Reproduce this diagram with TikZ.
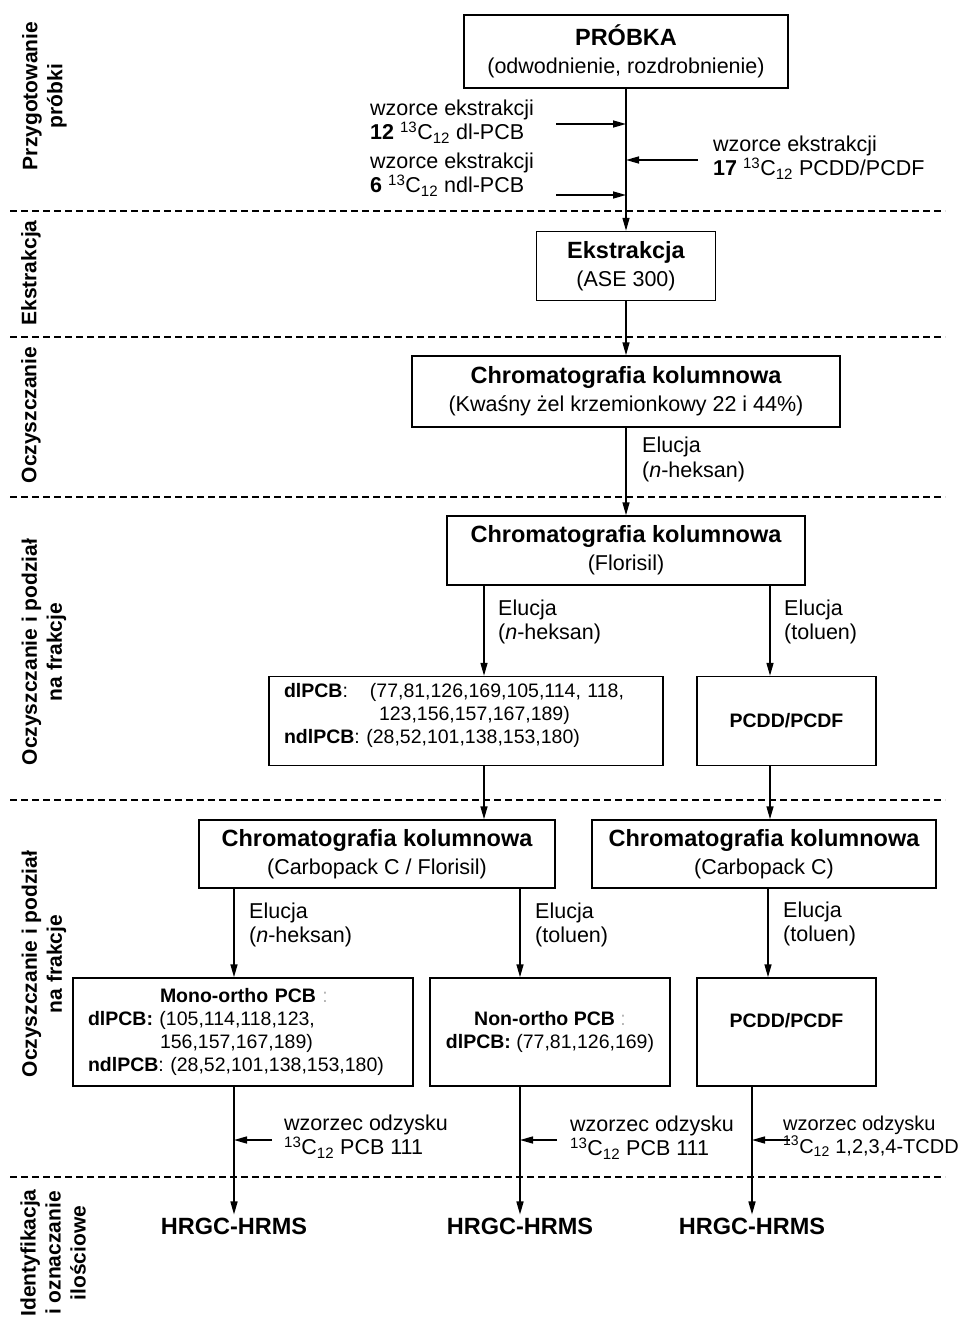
\documentclass[tikz,border=0pt]{standalone}
\usepackage{fontspec}
\setmainfont{Liberation Sans}
\usetikzlibrary{arrows.meta}

\newcommand{\pfnorm}{\fontsize{21.5}{24.5}\selectfont}
\newcommand{\pfbox}{\fontsize{21.5}{28}\selectfont}
\newcommand{\pfbig}{\fontsize{23.5}{28}\selectfont}
\newcommand{\pfsmall}{\fontsize{19.5}{23}\selectfont}
\newcommand{\pfstage}{\fontsize{21}{25}\selectfont}
\newcommand{\isoC}{\textsuperscript{13}C\textsubscript{12}}

\begin{document}
\begin{tikzpicture}[x=1pt,y=-1pt,
    box/.style={draw, line width=1.5pt, align=center, inner sep=0pt, font=\pfbox},
    note/.style={align=left, inner sep=0pt, anchor=west, font=\pfnorm},
    stage/.style={rotate=90, align=center, inner sep=0pt, font=\pfstage\bfseries},
    hrgc/.style={inner sep=3pt, font=\pfbig\bfseries},
    arr/.style={line width=1.5pt, -{Triangle[length=13pt,width=7pt]}},
    sepline/.style={line width=1.3pt, dash pattern=on 7pt off 4pt}]
  \useasboundingbox (0,0) rectangle (967,1319);

  \foreach \y in {211,337,497,800,1177}
    \draw[sepline] (10,\y) -- (945,\y);

  \node[stage] (s1) at (44.5,96) {Przygotowanie\\próbki};
  \node[stage] (s2) at (31,273) {Ekstrakcja};
  \node[stage] (s3) at (31,415) {Oczyszczanie};
  \node[stage] (s4) at (44,652) {Oczyszczanie i podział\\na frakcje};
  \node[stage] (s5) at (44,964) {Oczyszczanie i podział\\na frakcje};
  \node[stage] (s6) at (53,1253) {Identyfikacja\\i oznaczanie\\ilościowe};

  \node[box, minimum width=324pt, minimum height=73pt] (probka) at (626,51.5)
    {{\pfbig\bfseries PRÓBKA}\\(odwodnienie, rozdrobnienie)};
  \node[box, minimum width=179pt, minimum height=69pt] (ekstr) at (626,266)
    {{\pfbig\bfseries Ekstrakcja}\\(ASE 300)};
  \node[box, minimum width=428pt, minimum height=71pt] (chrom) at (626,391.5)
    {{\pfbig\bfseries Chromatografia kolumnowa}\\(Kwaśny żel krzemionkowy 22 i 44\%)};
  \node[box, minimum width=358pt, minimum height=69pt] (flor) at (626,550.5)
    {{\pfbig\bfseries Chromatografia kolumnowa}\\(Florisil)};
  \node[box, align=left, text width=364pt, inner xsep=15pt, minimum height=89pt,
        font=\pfsmall] (dlpcb) at (466,721)
    {\textbf{dlPCB}:\hspace{22pt}(77,81,126,169,105,114, 118,\\
     \hspace*{95pt}123,156,157,167,189)\\
     \textbf{ndlPCB}: (28,52,101,138,153,180)\\[-8pt]\mbox{}};
  \node[box, minimum width=179pt, minimum height=89pt, font=\pfsmall] (pcdda) at (786.5,721)
    {\textbf{PCDD/PCDF}};
  \node[box, minimum width=356pt, minimum height=68pt] (carbflor) at (377,854)
    {{\pfbig\bfseries Chromatografia kolumnowa}\\(Carbopack C / Florisil)};
  \node[box, minimum width=344pt, minimum height=68pt] (carb) at (764,854)
    {{\pfbig\bfseries Chromatografia kolumnowa}\\(Carbopack C)};
  \node[box, align=left, text width=310pt, inner xsep=15pt, minimum height=108pt,
        font=\pfsmall] (mono) at (243,1032)
    {\hspace*{72pt}\textbf{Mono-ortho PCB} \textcolor{gray!60}{:}\\
     \textbf{dlPCB:} (105,114,118,123,\\
     \hspace*{72pt}156,157,167,189)\\
     \textbf{ndlPCB}: (28,52,101,138,153,180)};
  \node[box, minimum width=240pt, minimum height=108pt, font=\pfsmall] (nonortho) at (550,1032)
    {\textbf{Non-ortho PCB} \textcolor{gray!60}{:}\\\textbf{dlPCB:} (77,81,126,169)};
  \node[box, minimum width=179pt, minimum height=108pt, font=\pfsmall] (pcddb) at (786.5,1032)
    {\textbf{PCDD/PCDF}\\\mbox{}};

  \node[hrgc] (hra) at (234,1226) {HRGC-HRMS};
  \node[hrgc] (hrb) at (520,1226) {HRGC-HRMS};
  \node[hrgc] (hrc) at (752,1226) {HRGC-HRMS};

  \node[note] (wa) at (370,121.5) {wzorce ekstrakcji\\\textbf{12} \isoC{} dl-PCB};
  \node[note] (wb) at (370,174.5) {wzorce ekstrakcji\\\textbf{6} \isoC{} ndl-PCB};
  \node[note] (wc) at (713,157.5) {wzorce ekstrakcji\\\textbf{17} \isoC{} PCDD/PCDF};

  \node[note] (ea) at (642,459.5) {Elucja\\(\textit{n}-heksan)};
  \node[note] (eb) at (498,622) {Elucja\\(\textit{n}-heksan)};
  \node[note] (ec) at (784,622) {Elucja\\(toluen)};
  \node[note] (ed) at (249,925) {Elucja\\(\textit{n}-heksan)};
  \node[note] (ee) at (535,925) {Elucja\\(toluen)};
  \node[note] (ef) at (783,924) {Elucja\\(toluen)};

  \node[note] (ra) at (284,1136.5) {wzorzec odzysku\\\isoC{} PCB 111};
  \node[note] (rb) at (570,1137.5) {wzorzec odzysku\\\isoC{} PCB 111};
  \node[note, font=\fontsize{20}{23}\selectfont] (rc) at (783,1136)
    {wzorzec odzysku\\\isoC{} 1,2,3,4-TCDD};

  \coordinate (cola) at (234,0);
  \coordinate (colb) at (520,0);
  \coordinate (colc) at (768,0);
  \coordinate (cole) at (484,0);
  \coordinate (colf) at (770,0);
  \coordinate (ina) at (556,124);
  \coordinate (inb) at (556,195);
  \coordinate (inc) at (698,160);
  \coordinate (rca) at (272,1140);
  \coordinate (rcb) at (557,1140);
  \coordinate (rcc) at (790,1140);

  \draw[arr] (probka) -- (ekstr);
  \draw[arr] (ekstr) -- (chrom);
  \draw[arr] (chrom) -- (flor);
  \draw[arr] (ina) -- (ina -| probka);
  \draw[arr] (inb) -- (inb -| probka);
  \draw[arr] (inc) -- (inc -| probka);

  \draw[arr] (cole |- flor.south) -- (cole |- dlpcb.north);
  \draw[arr] (colf |- flor.south) -- (colf |- pcdda.north);
  \draw[arr] (cole |- dlpcb.south) -- (cole |- carbflor.north);
  \draw[arr] (colf |- pcdda.south) -- (colf |- carb.north);
  \draw[arr] (cola |- carbflor.south) -- (cola |- mono.north);
  \draw[arr] (colb |- carbflor.south) -- (colb |- nonortho.north);
  \draw[arr] (colc |- carb.south) -- (colc |- pcddb.north);

  \draw[arr] (hra |- mono.south) -- (hra);
  \draw[arr] (hrb |- nonortho.south) -- (hrb);
  \draw[arr] (hrc |- pcddb.south) -- (hrc);
  \draw[arr] (rca) -- (rca -| hra);
  \draw[arr] (rcb) -- (rcb -| hrb);
  \draw[arr] (rcc) -- (rcc -| hrc);
\end{tikzpicture}
\end{document}
